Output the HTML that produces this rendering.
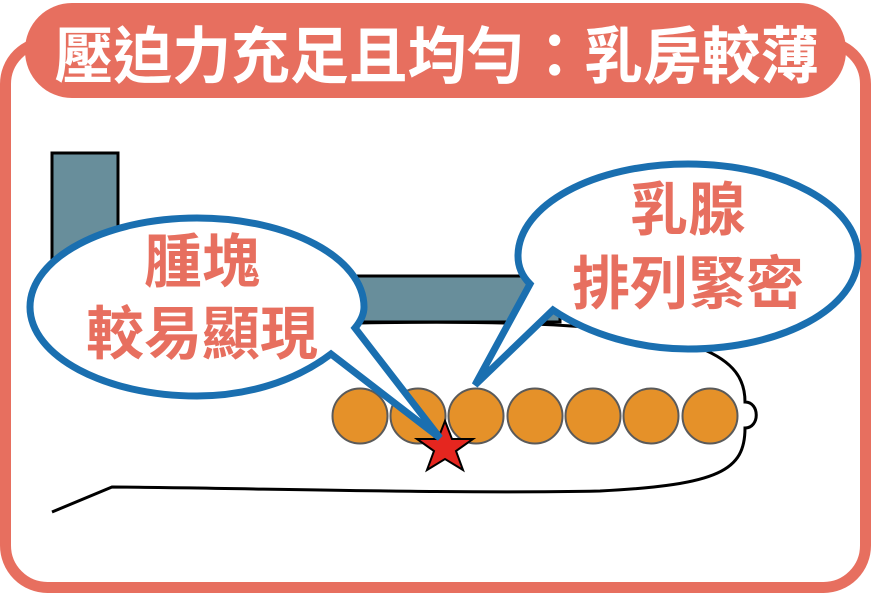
<!DOCTYPE html>
<html><head><meta charset="utf-8"><style>
html,body{margin:0;padding:0;background:#fff}
svg{display:block}
text{font-family:"Liberation Sans","Noto Sans CJK TC",sans-serif;font-weight:bold}
</style></head><body>
<svg width="871" height="593" viewBox="0 0 871 593" xmlns="http://www.w3.org/2000/svg">
<rect x="5.5" y="42" width="860" height="545.5" rx="42" fill="#fff" stroke="#e76f5f" stroke-width="11"/>
<rect x="25" y="3" width="821" height="95" rx="47" fill="#e76f5f"/>
<text x="437" y="78" font-size="62" fill="#fff" text-anchor="middle" textLength="765" lengthAdjust="spacingAndGlyphs">壓迫力充足且均勻：乳房較薄</text>
<path d="M52,153 H118 V276 H560 V322 H52 Z" fill="#688e9b" stroke="#000" stroke-width="3"/>
<path d="M360,323 C520,320 640,325 700,348 C735,362 745,380 745,402 C760,402 760,428 745,428 C745,470 720,485 600,491 C450,494 250,488 112,487 L52,512" fill="none" stroke="#000" stroke-width="3"/>
<g fill="#e59129" stroke="#5a5a5a" stroke-width="2">
<circle cx="360" cy="416" r="27.5"/><circle cx="418" cy="416" r="27.5"/><circle cx="476" cy="416" r="27.5"/><circle cx="535" cy="416" r="27.5"/><circle cx="593" cy="416" r="27.5"/><circle cx="651" cy="416" r="27.5"/><circle cx="710" cy="416" r="27.5"/>
</g>
<polygon points="445,421 452,439 473,439 456,451 463,470 445,459 427,470 434,451 417,439 438,439" fill="#e5261f" stroke="#000" stroke-width="2"/>
<path d="M331,354 C290,385 240,396 197,396 C105,396 30,356 30,307 C30,258 105,218 197,218 C289,218 364,258 364,307 C364,315 360,322 355,328 L440,438 Z" fill="#fff" stroke="#1a6fb0" stroke-width="7" stroke-linejoin="miter"/>
<path d="M553,310 C590,335 640,349 688,349 C782,349 858,308 858,256 C858,205 782,164 688,164 C594,164 518,205 518,256 C518,266 522,276 530,284 L475,385 Z" fill="#fff" stroke="#1a6fb0" stroke-width="7"/>
<g fill="#e76f5f" font-size="58" text-anchor="middle">
<text x="202" y="282">腫塊</text>
<text x="202" y="354">較易顯現</text>
<text x="688" y="230">乳腺</text>
<text x="688" y="304">排列緊密</text>
</g>
</svg>
</body></html>
